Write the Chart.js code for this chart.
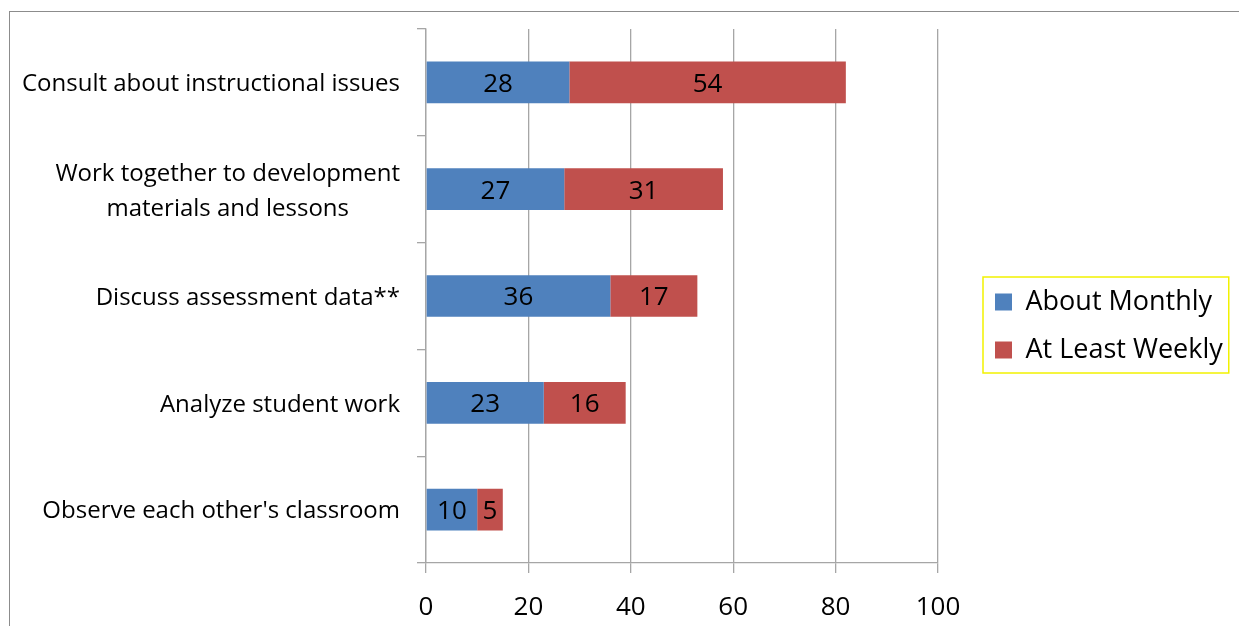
<!DOCTYPE html>
<html>
<head>
<meta charset="utf-8">
<script src="https://cdn.jsdelivr.net/npm/chart.js@4"></script>
<style>
  html, body { margin: 0; padding: 0; background: #ffffff; overflow: hidden; width: 1239px; height: 626px; }
  #frame { position: absolute; left: 9px; top: 11px; width: 1400px; height: 800px; border: 1px solid #8c8c8c; }
  #c { position: absolute; left: 0; top: 0; }
</style>
</head>
<body>
<div id="frame"></div>
<canvas id="c" width="1239" height="626"></canvas>
<script>
const categories = [
  "Consult about instructional issues",
  ["Work together to development", "materials and lessons"],
  "Discuss assessment data**",
  "Analyze student work",
  "Observe each other's classroom"
];
const aboutMonthly = [28, 27, 36, 23, 10];
const atLeastWeekly = [54, 31, 17, 16, 5];
const seriesNames = ["About Monthly", "At Least Weekly"];
const xTicks = [0, 20, 40, 60, 80, 100];

const FONT = "'Open Sans'";
const GRID = "#a6a6a6";

const valueLabels = {
  id: "valueLabels",
  afterDatasetsDraw(chart) {
    const ctx = chart.ctx;
    ctx.save();
    ctx.font = "26px " + FONT;
    ctx.fillStyle = "#000";
    ctx.textAlign = "center";
    ctx.textBaseline = "middle";
    chart.data.datasets.forEach((ds, di) => {
      const meta = chart.getDatasetMeta(di);
      meta.data.forEach((bar, i) => {
        const cx = (bar.x + bar.base) / 2;
        ctx.fillText(String(ds.data[i]), cx, bar.y + 2);
      });
    });
    ctx.restore();
  }
};

const categoryLabels = {
  id: "categoryLabels",
  afterDraw(chart) {
    const ctx = chart.ctx;
    const ys = chart.scales.y;
    ctx.save();
    ctx.font = "24px " + FONT;
    ctx.fillStyle = "#000";
    ctx.textAlign = "center";
    ctx.textBaseline = "middle";
    const rightEdge = ys.right - 26;
    const lh = 35;
    chart.data.labels.forEach((lab, i) => {
      const lines = Array.isArray(lab) ? lab : [lab];
      const w = Math.max(...lines.map(l => ctx.measureText(l).width));
      const cx = rightEdge - w / 2;
      const cy = ys.getPixelForTick(i) + 2;
      lines.forEach((l, k) => {
        ctx.fillText(l, cx, cy + (k - (lines.length - 1) / 2) * lh);
      });
    });
    ctx.restore();
  }
};

const legendFrame = {
  id: "legendFrame",
  afterInit(chart) {
    const lg = chart.legend;
    const f = lg.fit;
    lg.fit = function () { f.apply(this, arguments); this.width = 265; };
  },
  afterDraw(chart) {
    const lg = chart.legend;
    const hb = lg.legendHitBoxes;
    if (!hb || !hb.length) return;
    const ctx = chart.ctx;
    const first = hb[0], last = hb[hb.length - 1];
    const left = first.left - 12;
    const top = first.top + first.height / 2 - 25;
    const bottom = last.top + last.height / 2 + 23;
    const right = Math.max(...hb.map(h => h.left + h.width)) + 6;
    ctx.save();
    ctx.strokeStyle = "#f2f200";
    ctx.lineWidth = 1.5;
    ctx.strokeRect(left, top, right - left, bottom - top);
    ctx.restore();
  }
};

new Chart(document.getElementById("c"), {
  type: "bar",
  data: {
    labels: categories,
    datasets: [
      { label: seriesNames[0], data: aboutMonthly, backgroundColor: "#4f81bd" },
      { label: seriesNames[1], data: atLeastWeekly, backgroundColor: "#c0504d" }
    ]
  },
  options: {
    indexAxis: "y",
    responsive: false,
    animation: false,
    devicePixelRatio: 1,
    datasets: { bar: { barPercentage: 0.39, categoryPercentage: 1 } },
    layout: { padding: { left: 0, top: 29, right: 0, bottom: 3 } },
    scales: {
      x: {
        stacked: true,
        min: 0,
        max: 100,
        afterBuildTicks(s) { s.ticks = xTicks.map(v => ({ value: v })); },
        afterFit(s) { s.height = 60; },
        grid: { color: GRID, lineWidth: 1.3, tickLength: 10, drawOnChartArea: true },
        border: { display: true, color: GRID, width: 1.3 },
        ticks: { font: { family: "Open Sans", size: 26 }, color: "#000", padding: 19 }
      },
      y: {
        stacked: true,
        afterFit(s) { s.width = 426; },
        grid: { color: GRID, lineWidth: 1.3, tickLength: 9, drawOnChartArea: false, offset: true },
        border: { display: true, color: GRID, width: 1.3 },
        ticks: { display: false }
      },
      y2: {
        type: "linear",
        position: "right",
        display: true,
        min: 0, max: 1,
        afterFit(s) { s.width = 36; },
        grid: { display: false },
        border: { display: false },
        ticks: { display: false }
      }
    },
    plugins: {
      tooltip: { enabled: false },
      legend: {
        position: "right",
        align: "center",
        labels: {
          font: { family: "Open Sans", size: 27 },
          color: "#000",
          boxWidth: 17,
          boxHeight: 17,
          padding: 21
        }
      }
    }
  },
  plugins: [valueLabels, categoryLabels, legendFrame]
});
</script>
</body>
</html>
